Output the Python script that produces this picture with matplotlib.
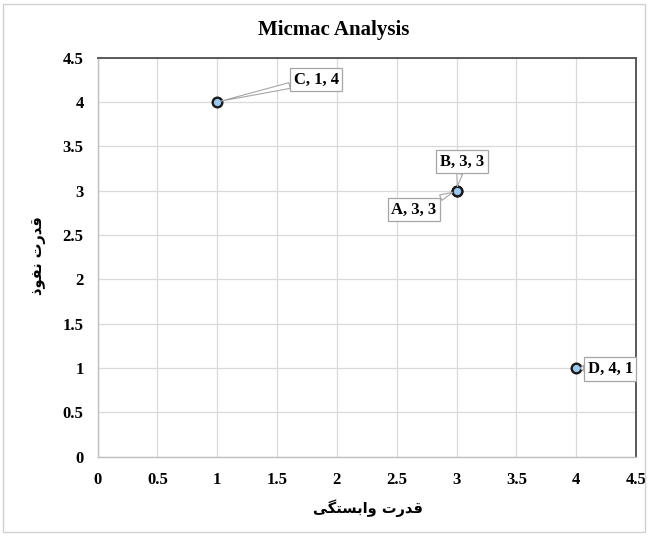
import matplotlib
matplotlib.use("Agg")
import matplotlib.pyplot as plt
from matplotlib.patches import Rectangle

# Data
labels = ["A", "B", "C", "D"]
dependence = [3, 3, 1, 4]   # x: قدرت وابستگی
influence = [3, 3, 4, 1]    # y: قدرت نفوذ
ticks = [0, 0.5, 1, 1.5, 2, 2.5, 3, 3.5, 4, 4.5]
tick_labels = ["0", "0.5", "1", "1.5", "2", "2.5", "3", "3.5", "4", "4.5"]
title = "Micmac Analysis"

# Persian labels (logical text: "قدرت وابستگی", "قدرت نفوذ") in shaped, visual order
xlabel = "\uFBFD\uFB95\uFE98\uFEB4\uFE91\uFE8D\uFEED \uFE95\uFEAD\uFEAA\uFED7"
ylabel = "\uFEAB\uFEEE\uFED4\uFEE7 \uFE95\uFEAD\uFEAA\uFED7"

serif = ["Liberation Serif", "DejaVu Serif"]

fig = plt.figure(figsize=(6.48, 5.36), dpi=100)
ax = fig.add_axes([0.1505, 0.148, 0.831, 0.7445])

ax.set_xlim(0, 4.5)
ax.set_ylim(0, 4.5)
ax.set_xticks(ticks)
ax.set_yticks(ticks)
ax.set_xticklabels(tick_labels, fontfamily=serif, fontweight="bold", fontsize=12)
ax.set_yticklabels(tick_labels, fontfamily=serif, fontweight="bold", fontsize=12)
ax.tick_params(length=0)
ax.tick_params(axis="x", pad=11)
ax.tick_params(axis="y", pad=10)
ax.grid(True, color="#D9D9D9", linewidth=0.9)
ax.set_axisbelow(True)
for side in ["left", "bottom"]:
    ax.spines[side].set_color("#BFBFBF")
    ax.spines[side].set_linewidth(1.0)
for side in ["top", "right"]:
    ax.spines[side].set_color("#595959")
    ax.spines[side].set_linewidth(1.4)

ax.scatter(dependence, influence, s=48, facecolor="#9CC8EE", edgecolor="#1A1A1A",
           linewidth=1.7, zorder=5, clip_on=False)

# label offsets in pixels (right, up)
offsets = {"A": (-42.5, -19), "B": (5.5, 29), "C": (99, 22.5), "D": (34, -1)}
for lab, xv, yv in zip(labels, dependence, influence):
    dx, dy = offsets[lab]
    ax.annotate(f"{lab}, {xv}, {yv}", xy=(xv, yv), xytext=(dx * 0.72, dy * 0.72),
                textcoords="offset points", ha="center", va="center",
                fontfamily=serif, fontweight="bold", fontsize=12, zorder=6,
                bbox=dict(boxstyle="square,pad=0.22", facecolor="white",
                          edgecolor="#A6A6A6", linewidth=0.9),
                arrowprops=dict(arrowstyle="wedge,tail_width=0.35,shrink_factor=0.5",
                                facecolor="white", edgecolor="#A6A6A6", linewidth=0.8,
                                shrinkA=0, shrinkB=3))

fig.text(334 / 648, 1 - 29.5 / 536, title, ha="center", va="center",
         fontfamily=serif, fontweight="bold", fontsize=15)
fig.text(368 / 648, 1 - 508 / 536, xlabel, ha="center", va="center",
         fontfamily="DejaVu Sans", fontweight="bold", fontsize=10.5)
fig.text(39 / 648, 1 - 256 / 536, ylabel, ha="center", va="center", rotation=90,
         fontfamily="DejaVu Sans", fontweight="bold", fontsize=10.5)

fig.patches.append(Rectangle((3 / 648, 4 / 536), 642 / 648, 528 / 536,
                             transform=fig.transFigure, fill=False,
                             edgecolor="#D0D0D0", linewidth=1.0))

fig.savefig("out.png", dpi=100)
